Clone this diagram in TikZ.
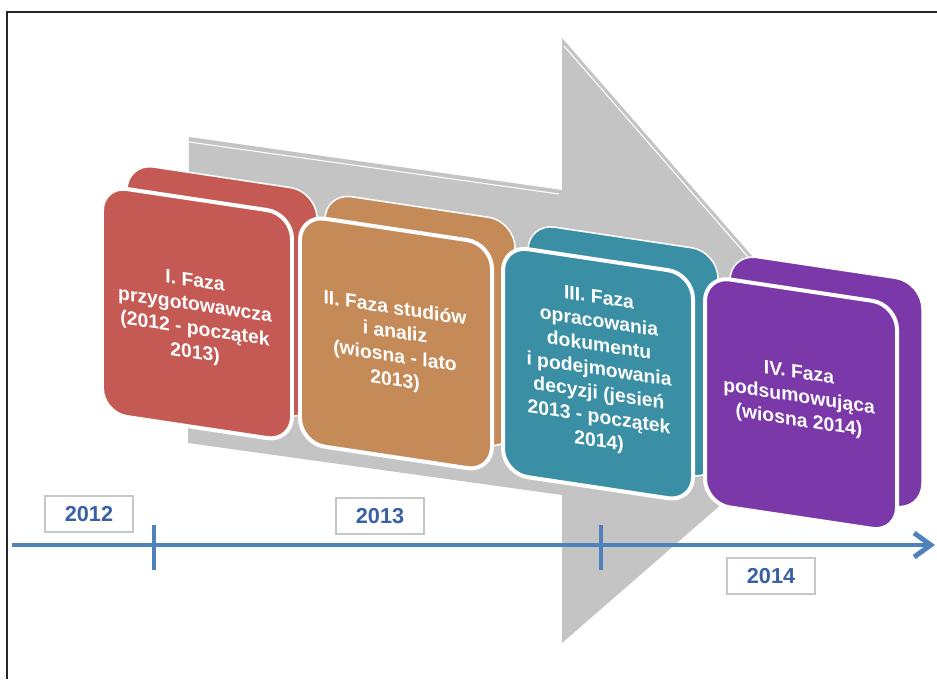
\documentclass[tikz,border=0pt]{standalone}
\usepackage{fontspec}
\setmainfont{Liberation Sans}
\usetikzlibrary{arrows.meta}
\definecolor{phaseI}{HTML}{C55A55}
\definecolor{phaseII}{HTML}{C48A58}
\definecolor{phaseIII}{HTML}{3A8FA5}
\definecolor{phaseIV}{HTML}{7B38A8}
\definecolor{arrowgray}{HTML}{C4C4C4}
\definecolor{axisblue}{HTML}{4F81BD}
\definecolor{yeartext}{HTML}{3760A6}
\begin{document}
\begin{tikzpicture}[x=0.03cm, y=-0.03cm,
    backface/.style={draw=white, line width=1.3pt, rounded corners=0.8cm},
    frontface/.style={draw=white, line width=3.4pt, rounded corners=0.75cm},
    phasetext/.style={text=white, align=center, transform shape,
      font=\bfseries\fontsize{16.5}{20.4}\selectfont},
    yearbox/.style={draw=black!22, line width=1pt, fill=white, text=yeartext,
      font=\bfseries\fontsize{18.5}{22}\selectfont,
      minimum width=2.64cm, minimum height=1.08cm, inner sep=0pt},
    axisline/.style={axisblue, line width=4.2pt}]
  \useasboundingbox (0,0) rectangle (937,679);
  \fill[white] (0,0) rectangle (937,679);
  % frame
  \draw[black!85, line width=2.2pt] (7,679) -- (7,12) -- (937,12);

  % big gray arrow behind the phases
  \fill[arrowgray] (189,137) -- (562,190) -- (562,38) -- (862,382)
    -- (562,643) -- (562,495) -- (188,443) -- cycle;
  \draw[white, line width=0.9pt] (189,142) -- (559,194);
  \draw[white, line width=0.9pt] (564,46) -- (858,383);

  % phases
  \begin{scope}[yslant=-0.15]
    \path[fill=phaseI, backface] (127,144) rectangle (317,372);
    \path[fill=phaseI, frontface] (102,170) rectangle (292,398);
    \node[phasetext] (f1) at (195,289) {I. Faza\\przygotowawcza\\(2012 - początek\\2013)};

    \path[fill=phaseII, backface] (325,144) rectangle (515,372);
    \path[fill=phaseII, frontface] (300,170) rectangle (492,398);
    \node[phasetext] (f2) at (395,286) {II. Faza studiów\\i analiz\\(wiosna - lato\\2013)};

    \path[fill=phaseIII, backface] (528,144) rectangle (718,372);
    \path[fill=phaseIII, frontface] (503,170) rectangle (693,398);
    \node[phasetext] (f3) at (599,281) {III. Faza\\opracowania\\dokumentu\\i podejmowania\\decyzji (jesień\\2013 - początek\\2014)};

    \path[fill=phaseIV, backface] (730,144) rectangle (922,372);
    \path[fill=phaseIV, frontface] (705,170) rectangle (897,398);
    \node[phasetext] (f4) at (799,278) {IV. Faza\\podsumowująca\\(wiosna 2014)};
  \end{scope}

  % time axis
  \coordinate (axL) at (12,545);
  \coordinate (axR) at (935,545);
  \draw[axisline, -{Straight Barb[length=0.5cm, width=0.72cm]}] (axL) -- (axR);
  \coordinate (t1a) at (154,525);
  \coordinate (t1b) at (154,570);
  \coordinate (t2a) at (601,525);
  \coordinate (t2b) at (601,570);
  \draw[axisblue, line width=2.8pt] (t1a) -- (t1b);
  \draw[axisblue, line width=2.8pt] (t2a) -- (t2b);

  \node[yearbox] (y2012) at (89,514) {2012};
  \node[yearbox] (y2013) at (380,516) {2013};
  \node[yearbox] (y2014) at (771,576) {2014};
\end{tikzpicture}
\end{document}
